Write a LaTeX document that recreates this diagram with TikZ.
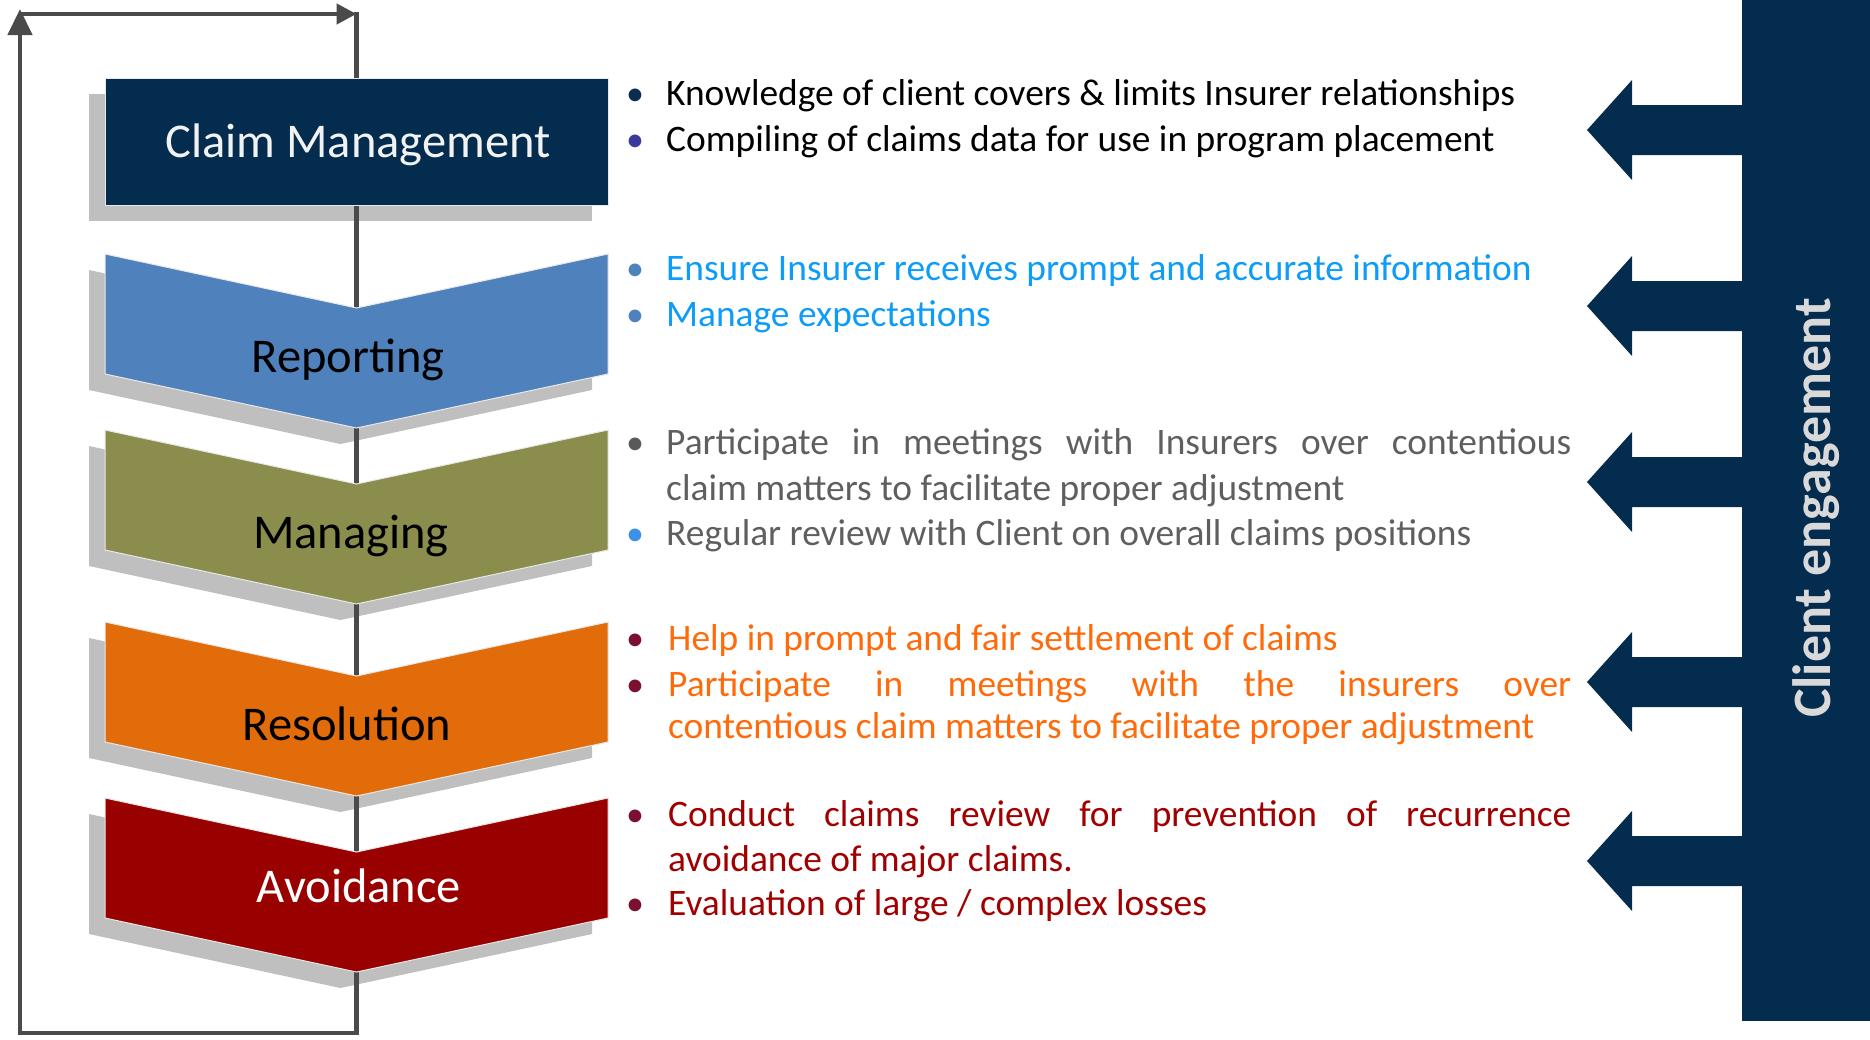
\documentclass[tikz,border=0pt]{standalone}
\usepackage{fontspec}
\setmainfont{Carlito}
\usetikzlibrary{arrows.meta}
\pgfdeclarelayer{shadowlayer}
\pgfdeclarelayer{linklayer}
\pgfsetlayers{shadowlayer,linklayer,main}
\definecolor{navy}{HTML}{032C4E}
\definecolor{shadgray}{HTML}{BFBFBF}
\definecolor{linegray}{HTML}{4A4A4A}
\definecolor{edgecol}{HTML}{E8E8E8}
\definecolor{repblue}{HTML}{4F81BD}
\definecolor{manolive}{HTML}{8A8D4B}
\definecolor{resorange}{HTML}{E36C0A}
\definecolor{avored}{HTML}{990000}
\definecolor{labwhite}{HTML}{F2F2F2}
\definecolor{engtext}{HTML}{D9D9D9}
\definecolor{cbulA}{HTML}{0C2C52}
\definecolor{cbulB}{HTML}{3A3A9A}
\definecolor{reptext}{HTML}{0D9CF7}
\definecolor{repbul}{HTML}{4F81BD}
\definecolor{mantext}{HTML}{5F5F5F}
\definecolor{manbulA}{HTML}{595959}
\definecolor{manbulB}{HTML}{3C91E6}
\definecolor{restext}{HTML}{FF6A0A}
\definecolor{darkbul}{HTML}{7B1030}
\definecolor{avotext}{HTML}{A00000}
\tikzset{
  chev/.pic={
    \path[pic actions] (-251.5,0) -- (0,54) -- (251.5,0) -- (251.5,120) -- (0,174) -- (-251.5,120) -- cycle;
    \coordinate (-n) at (0,54);
    \coordinate (-t) at (0,174);
  },
  larr/.pic={
    \path[pic actions] (0,0) -- (45,-50) -- (45,-25) -- (160,-25) -- (160,25) -- (45,25) -- (45,50) -- cycle;
  }
}
\begin{document}
\begin{tikzpicture}[x=1pt,y=-1pt,
  conn/.style={draw=linegray, line width=4.5pt},
  shad/.style={fill=shadgray},
  shapeedge/.style={draw=edgecol, line width=1pt},
  lbl/.style={anchor=base, inner sep=0, font=\fontsize{48.5}{56}\selectfont},
  btxt/.style={anchor=base west, inner sep=0, font=\fontsize{37.4}{42}\selectfont},
  bul/.style={anchor=base, inner sep=0, font=\fontsize{36}{42}\selectfont},
]
\useasboundingbox (0,0) rectangle (1870,1039);

% ---------- shapes ----------
\node[fill=navy, shapeedge, minimum width=503, minimum height=127, inner sep=0] (cm) at (356.5,141.5) {};
\pic[fill=repblue, shapeedge] (rep) at (356.5,254) {chev};
\pic[fill=manolive, shapeedge] (man) at (356.5,430) {chev};
\pic[fill=resorange, shapeedge] (res) at (356.5,622) {chev};
\pic[fill=avored, shapeedge] (avo) at (356.5,798) {chev};

% ---------- shadows ----------
\begin{pgfonlayer}{shadowlayer}
  \fill[shad] (89,94) rectangle (592,221);
  \pic[shad] at (340.5,270) {chev};
  \pic[shad] at (340.5,446) {chev};
  \pic[shad] at (340.5,638) {chev};
  \pic[shad] at (340.5,814) {chev};
\end{pgfonlayer}

% ---------- connectors ----------
\coordinate (cb) at (356.5,1033);
\coordinate (lb) at (20,1033);
\coordinate (lt) at (20,9);
\coordinate (hl) at (20,14);
\coordinate (hr) at (356.5,14);
\begin{pgfonlayer}{linklayer}
  \draw[conn] (cm.south) -- (rep-n);
  \draw[conn] (rep-t) -- (man-n);
  \draw[conn] (man-t) -- (res-n);
  \draw[conn] (res-t) -- (avo-n);
  \draw[conn, -{Triangle[length=26pt,width=24pt]}] (avo-t) -- (cb) -- (lb) -- (lt);
  \draw[conn, -{Triangle[length=20pt,width=20pt]}] (hl) -- (hr);
  \draw[conn, line cap=rect] (hr) -- (cm.north);
\end{pgfonlayer}

% ---------- stage labels ----------
\node[lbl, text=labwhite] (lcm) at (358,157) {Claim Management};
\node[lbl, text=black] (lrep) at (348,372) {Reporting};
\node[lbl, text=black] (lman) at (351,548) {Managing};
\node[lbl, text=black] (lres) at (347,740) {Resolution};
\node[lbl, text=white] (lavo) at (359,902) {Avoidance};

% ---------- bullet texts ----------
\node[bul, text=cbulA] (c1b) at (635,105) {•};
\node[btxt, text=black] (c1) at (666,105) {Knowledge of client covers \& limits Insurer relationships};
\node[bul, text=cbulB] (c2b) at (635,151) {•};
\node[btxt, text=black] (c2) at (666,151) {Compiling of claims data for use in program placement};

\node[bul, text=repbul] (r1b) at (635,280) {•};
\node[btxt, text=reptext] (r1) at (666,280) {Ensure Insurer receives prompt and accurate information};
\node[bul, text=repbul] (r2b) at (635,326) {•};
\node[btxt, text=reptext] (r2) at (666,326) {Manage expectations};

\node[bul, text=manbulA] (m1b) at (635,454) {•};
\node[btxt, text=mantext] (m1) at (666,454) {\makebox[905pt][s]{Participate in meetings with Insurers over contentious}};
\node[btxt, text=mantext] (m2) at (666,500) {claim matters to facilitate proper adjustment};
\node[bul, text=manbulB] (m3b) at (635,545) {•};
\node[btxt, text=mantext] (m3) at (666,545) {Regular review with Client on overall claims positions};

\node[bul, text=darkbul] (s1b) at (635,650) {•};
\node[btxt, text=restext] (s1) at (668,650) {Help in prompt and fair settlement of claims};
\node[bul, text=darkbul] (s2b) at (635,696) {•};
\node[btxt, text=restext] (s2) at (668,696) {\makebox[903pt][s]{Participate in meetings with the insurers over}};
\node[btxt, text=restext] (s3) at (668,738) {contentious claim matters to facilitate proper adjustment};

\node[bul, text=darkbul] (a1b) at (635,826) {•};
\node[btxt, text=avotext] (a1) at (668,826) {\makebox[903pt][s]{Conduct claims review for prevention of recurrence}};
\node[btxt, text=avotext] (a2) at (668,871) {avoidance of major claims.};
\node[bul, text=darkbul] (a3b) at (635,915) {•};
\node[btxt, text=avotext] (a3) at (668,915) {Evaluation of large / complex losses};

% ---------- client engagement ----------
\node[fill=navy, minimum width=128, minimum height=1021, inner sep=0, anchor=north west] (bar) at (1742,0) {};
\foreach \yy in {130,306,482,682,861} {
  \pic[fill=navy] at (1587,\yy) {larr};
}
\node[anchor=base, inner sep=0, rotate=90, text=engtext, font=\fontsize{54}{60}\selectfont\bfseries] (eng) at (1830,508) {Client engagement};
\end{tikzpicture}
\end{document}
